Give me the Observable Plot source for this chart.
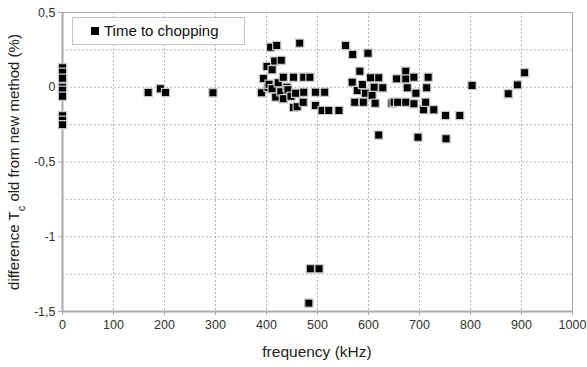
<!DOCTYPE html>
<html><head><meta charset="utf-8">
<script src="https://cdn.jsdelivr.net/npm/d3@7"></script>
<script src="https://cdn.jsdelivr.net/npm/@observablehq/plot@0.6"></script>
<style>
body{margin:0;background:#fff;font-family:"Liberation Sans",Arial,sans-serif;}
#wrap{position:relative;width:587px;height:367px;}
#legend{position:absolute;left:72px;top:17px;width:173px;height:28px;border:1px solid #c4c4c4;background:#fff;box-sizing:border-box;}
#legend .sw{position:absolute;left:18px;top:9px;width:8px;height:8px;background:#000;}
#legend .tx{position:absolute;left:31px;top:4px;font-size:15px;color:#111;white-space:nowrap;}
</style>
</head><body>
<div id="wrap"></div>
<script>
const seriesName = "Time to chopping";
const xTicks = [0,100,200,300,400,500,600,700,800,900,1000];
const yTicks = [-1.5,-1,-0.5,0,0.5];
const frequency = [
  0,0,0,0,0,0,0,0,0,
  168,192,202,295,390,394,401,403,405,408,411,411,416,418,420,423,428,429,433,433,440,442,448,453,453,457,460,465,472,473,473,485,496,496,509,514,522,542,
  555,568,569,573,578,583,588,590,594,599,604,607,611,613,620,620,628,646,650,655,657,673,673,673,676,689,689,693,697,708,712,714,717,728,751,752,779,803,874,892,906,
  486,503,483
];
const difference = [
  0.13,0.10,0.06,0.0,-0.02,-0.06,-0.19,-0.22,-0.25,
  -0.035,-0.01,-0.035,-0.037,-0.037,0.058,0.139,0.0,0.02,0.268,0.117,-0.01,0.175,-0.066,0.279,0.03,-0.03,0.18,0.067,-0.077,0.0,-0.017,-0.06,0.067,-0.135,-0.04,-0.13,0.295,-0.1,0.067,-0.033,0.067,-0.033,-0.122,-0.155,-0.033,-0.155,-0.155,
  0.279,0.034,0.219,-0.1,-0.022,0.107,0.018,-0.1,-0.04,0.228,0.063,-0.055,0.0,-0.107,0.063,-0.32,-0.004,-0.107,-0.1,0.056,-0.1,0.107,0.056,-0.1,-0.004,0.067,-0.111,-0.04,-0.334,-0.151,-0.1,-0.004,0.067,-0.151,-0.189,-0.345,-0.189,0.012,-0.044,0.016,0.097,
  -1.214,-1.214,-1.444
];
const data = frequency.map((f,i)=>({f, d: difference[i]}));
const fmt = d => String(d).replace(".", ",");

const chart = Plot.plot({
  width: 587, height: 367,
  marginLeft: 62, marginRight: 15, marginTop: 12, marginBottom: 56,
  style: {fontFamily: '"Liberation Sans", Arial, sans-serif', fontSize: "12.5px", color: "#333", background: "#fff"},
  x: {domain: [0,1000]},
  y: {domain: [-1.5,0.5]},
  marks: [
    Plot.gridX(xTicks, {stroke: "#999", strokeOpacity: 0.7, strokeDasharray: "2,2"}),
    Plot.gridY(d3.range(-1.25, 0.5, 0.25), {stroke: "#999", strokeOpacity: 0.7, strokeDasharray: "2,2"}),
    Plot.frame({stroke: "#aaa", strokeWidth: 1}),
    Plot.ruleX([0], {stroke: "#aaa", strokeWidth: 2}),
    Plot.ruleY([-1.5], {stroke: "#aaa", strokeWidth: 2}),
    Plot.axisX(xTicks, {tickSize: 4, tickPadding: 5, label: null, tickFormat: d => String(d), fontSize: 12.5, stroke: "#aaa"}),
    Plot.axisY(yTicks, {tickSize: 4, tickPadding: 3, label: null, tickFormat: fmt, fontSize: 12.5, stroke: "#aaa"}),
    Plot.dot(data, {x: "f", y: "d", symbol: "square", r: 4.6, fill: "#000", stroke: "#c8c8c8", strokeWidth: 1.2})
  ]
});
document.getElementById("wrap").appendChild(chart);

const svg = d3.select(chart);
const lab = svg.append("text")
  .attr("transform", "translate(19,162) rotate(-90)")
  .attr("text-anchor", "middle")
  .attr("fill", "#222")
  .style("font-size", "15px");
lab.append("tspan").text("difference T");
lab.append("tspan").attr("baseline-shift", "sub").style("font-size", "11px").text("c");
lab.append("tspan").text(" old from new method (%)");
svg.append("text")
  .attr("x", 317).attr("y", 357)
  .attr("text-anchor", "middle")
  .attr("fill", "#222")
  .style("font-size", "15.5px")
  .text("frequency (kHz)");

const lg = document.createElement("div");
lg.id = "legend";
lg.innerHTML = '<div class="sw"></div><div class="tx"></div>';
lg.querySelector(".tx").textContent = seriesName;
document.getElementById("wrap").appendChild(lg);
</script>
</body></html>
